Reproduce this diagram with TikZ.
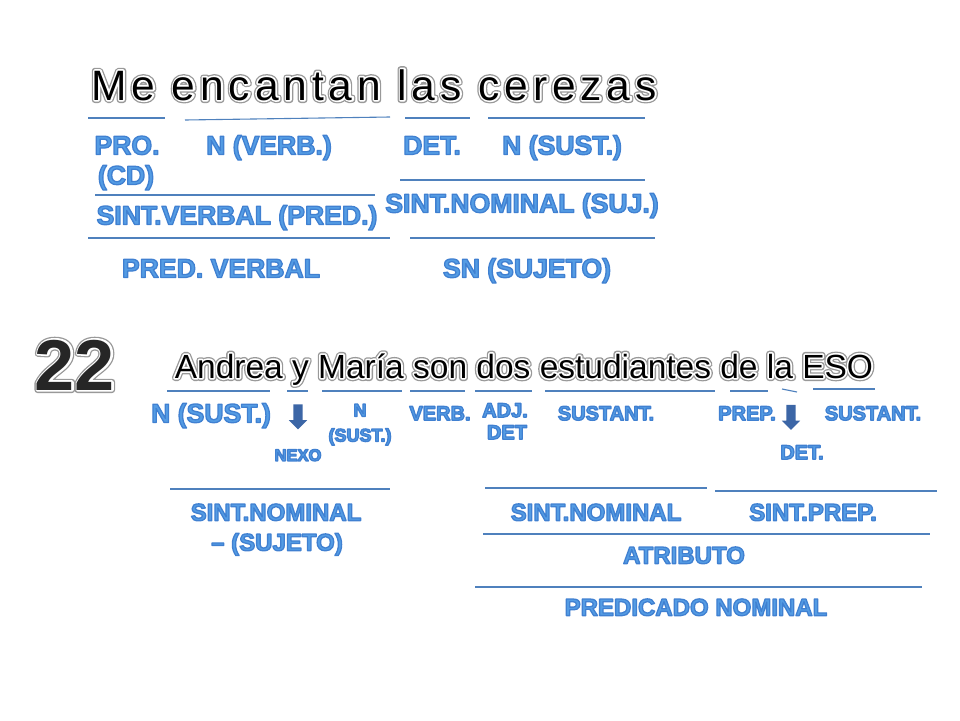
\documentclass[tikz,border=0pt]{standalone}
\usepackage{fontspec}
\setmainfont{Liberation Sans}
\newfontfamily\headfont{Liberation Sans}[LetterSpace=11.5]
\usepackage{tikz}
\usetikzlibrary{%
  shapes.arrows%
}

\definecolor{rulecol}{RGB}{79,129,189}
\definecolor{labcol}{RGB}{84,156,228}
\definecolor{arrowcol}{RGB}{60,102,166}

% grey rim and white halo round the black sentences
\newcommand\glowtext[1]{%
  \leavevmode\rlap{\color{black!40}\special{pdf:literal direct 2 Tr 6 w 1 j}#1\special{pdf:literal direct 0 Tr}}%
  \rlap{\color{white}\special{pdf:literal direct 2 Tr 3.4 w 1 j}#1\special{pdf:literal direct 0 Tr}}%
  #1}

\begin{document}
\begin{tikzpicture}[x=1pt,y=-1pt,
    rule/.style={rulecol,line width=1.1pt},
    sentence/.style={inner sep=0pt,text depth=0pt,text height=30pt,
      font=\headfont\fontsize{42.5}{46}\selectfont},
    lab/.style={inner sep=0pt,text depth=0pt,text height=19pt,
      font=\fontsize{26.6}{28}\selectfont\bfseries,
      execute at begin node={\color{labcol}\special{pdf:literal direct 0.25 0.5 0.82 RG 2 Tr 1.3 w 1 j}},
      execute at end node={\special{pdf:literal direct 0 Tr}}},
    midlab/.style={lab,text height=17.2pt,font=\fontsize{24}{26}\selectfont\bfseries},
    smalllab/.style={lab,text height=14.3pt,font=\fontsize{20}{22}\selectfont\bfseries},
    tinylab/.style={lab,text height=12.9pt,font=\fontsize{18}{20}\selectfont\bfseries},
    downarrow/.style={single arrow,fill=arrowcol,inner sep=4.5pt,
      single arrow head extend=4.5pt,minimum height=25pt,shape border rotate=270}]
  \useasboundingbox (0,0) rectangle (960,720);

  % Me encantan las cerezas
  \node[sentence] (cerezas) at (374,85) {\glowtext{Me encantan las cerezas}};
  \draw[rule] (88,118) -- (165,118);
  \draw[rule] (185,120) -- (390,117);
  \draw[rule] (405,118) -- (470,118);
  \draw[rule] (488,118) -- (645,118);
  \node[lab] (pro) at (127,145) {PRO.};
  \node[lab] (cd) at (126,175) {(CD)};
  \node[lab] (nverb) at (269,145) {N (VERB.)};
  \node[lab] (det) at (432,145) {DET.};
  \node[lab] (nsust) at (562,145) {N (SUST.)};
  \draw[rule] (400,180) -- (645,180);
  \draw[rule] (95,195) -- (375,195);
  \node[lab] (sintnom) at (522,203) {SINT.NOMINAL (SUJ.)};
  \node[lab] (sintverb) at (237,215) {SINT.VERBAL (PRED.)};
  \draw[rule] (88,238) -- (390,238);
  \draw[rule] (410,238) -- (655,238);
  \node[lab] (predverb) at (221,268) {PRED. VERBAL};
  \node[lab] (snsuj) at (527,268) {SN (SUJETO)};

  % 22: Andrea y María son dos estudiantes de la ESO
  \node[sentence,text height=52pt,font=\fontsize{72}{76}\selectfont\bfseries,text=black!85]
    (num) at (75,364) {\glowtext{22}};
  \node[sentence,text height=24pt,font=\fontsize{33.5}{36}\selectfont]
    (andrea) at (524,366) {\glowtext{Andrea y María son dos estudiantes de la ESO}};
  \draw[rule] (167,391) -- (270,391);
  \draw[rule] (287,391) -- (308,391);
  \draw[rule] (322,391) -- (402,391);
  \draw[rule] (410,391) -- (465,391);
  \draw[rule] (475,391) -- (532,391);
  \draw[rule] (545,391) -- (715,391);
  \draw[rule] (730,391) -- (768,391);
  \draw[rule] (782,389) -- (797,392);
  \draw[rule] (813,389) -- (875,389);
  \node[lab] (nandrea) at (211,413) {N (SUST.)};
  \node[downarrow] (yarrow) at (298,414.5) {};
  \node[tinylab,text height=11.8pt,font=\fontsize{16.5}{18}\selectfont\bfseries]
    (nexo) at (298,455) {NEXO};
  \node[tinylab] (nmaria) at (360,410) {N};
  \node[tinylab] (sustmaria) at (360,435) {(SUST.)};
  \node[smalllab] (verbson) at (440,413) {VERB.};
  \node[smalllab] (adjdos) at (505,410) {ADJ.};
  \node[smalllab] (detdos) at (507,432) {DET};
  \node[smalllab] (sustestud) at (606,413) {SUSTANT.};
  \node[smalllab] (prepde) at (747,413) {PREP.};
  \node[downarrow] (laarrow) at (791,415) {};
  \node[smalllab] (susteso) at (873,413) {SUSTANT.};
  \node[smalllab] (detla) at (802,452) {DET.};
  \draw[rule] (170,489) -- (390,489);
  \draw[rule] (485,488) -- (707,488);
  \draw[rule] (715,491) -- (937,491);
  \node[midlab] (snandrea) at (276,512) {SINT.NOMINAL};
  \node[midlab] (sujandrea) at (277,542) {– (SUJETO)};
  \node[midlab] (snestud) at (596,512) {SINT.NOMINAL};
  \node[midlab] (sprep) at (813,512) {SINT.PREP.};
  \draw[rule] (483,534) -- (930,534);
  \node[midlab] (atrib) at (684,555) {ATRIBUTO};
  \draw[rule] (475,587) -- (922,587);
  \node[midlab] (prednom) at (696,607) {PREDICADO NOMINAL};
\end{tikzpicture}
\end{document}
